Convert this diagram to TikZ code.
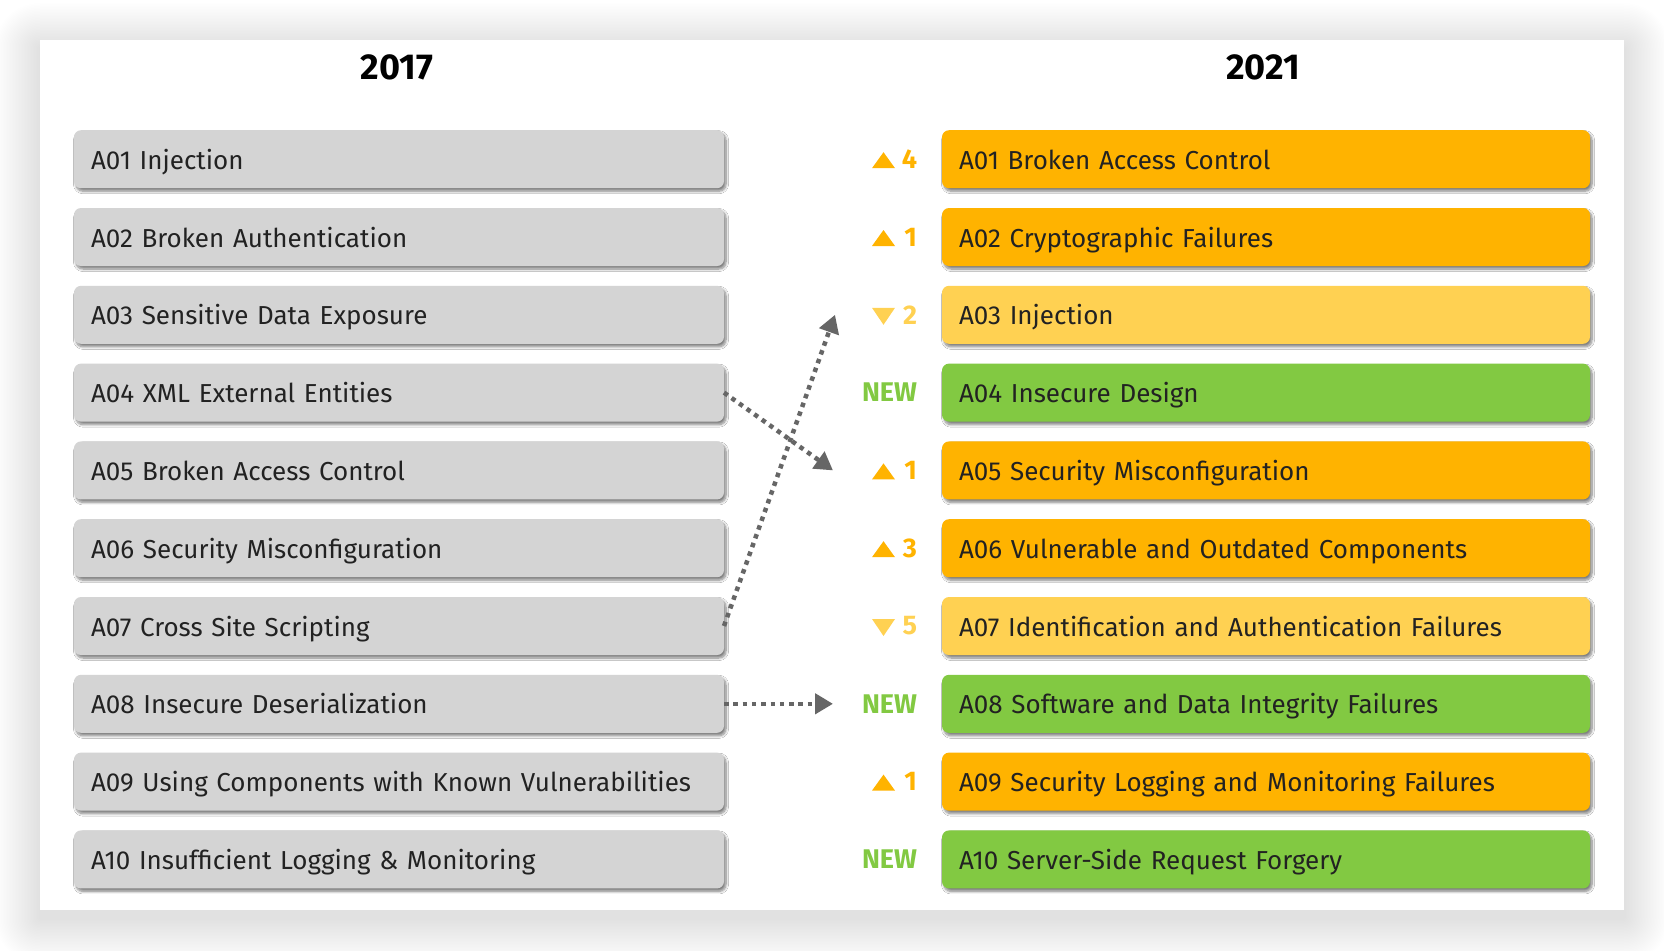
\documentclass[tikz,border=0pt]{standalone}
\usepackage{fontspec}
\setmainfont{Fira Sans}
\usetikzlibrary{arrows.meta,shadows.blur}

\definecolor{boxgray}{HTML}{D4D4D4}
\definecolor{txtdark}{HTML}{222222}
\definecolor{owasporange}{HTML}{FFB300}
\definecolor{owasplight}{HTML}{FFD152}
\definecolor{owaspgreen}{HTML}{82C942}
\definecolor{linkgray}{HTML}{666666}

\tikzset{
  every node/.style={inner sep=0pt, outer sep=0pt},
  entry/.style={anchor=west, minimum height=58pt, rounded corners=7pt,
      inner xsep=17pt, align=left, text=txtdark,
      text height=20pt, text depth=0pt,
      font=\fontsize{26pt}{30pt}\selectfont,
      blur shadow={shadow xshift=2pt, shadow yshift=-3pt,
      shadow blur radius=2.5pt, shadow blur steps=8, shadow opacity=50}},
  oldbox/.style={entry, fill=boxgray, text width=616pt},
  newbox/.style={entry, text width=614pt},
  rise/.style={newbox, fill=owasporange},
  drop/.style={newbox, fill=owasplight},
  fresh/.style={newbox, fill=owaspgreen},
  year/.style={font=\fontsize{36pt}{42pt}\selectfont\bfseries, text=black},
  marker/.style={anchor=east, font=\fontsize{27pt}{30pt}\selectfont\bfseries},
  link/.style={linkgray, line width=4.5pt, dash pattern=on 4.5pt off 4.8pt,
      -{Triangle[length=18pt, width=20pt]}},
}

\begin{document}
\begin{tikzpicture}[x=1pt, y=-1pt]
\useasboundingbox (0,0) rectangle (1664,950);
\fill[white] (0,0) rectangle (1664,950);

% soft shadow under the white card, built from stacked translucent layers
\foreach \i in {1,...,30}
  \fill[black, opacity=0.004, rounded corners=1.5*\i pt]
    (40-1.5*\i, 48-1.5*\i) rectangle (1624+1.5*\i, 918+1.5*\i);
\fill[white] (40,40) rectangle (1624,910);

% column headings
\node[year] (y17) at (397,67) {2017};
\node[year] (y21) at (1263,67) {2021};

% 2017 list
\node[oldbox] (o1)  at (74,159.2) {A01 Injection};
\node[oldbox] (o2)  at (74,237.0) {A02 Broken Authentication};
\node[oldbox] (o3)  at (74,314.8) {A03 Sensitive Data Exposure};
\node[oldbox] (o4)  at (74,392.6) {A04 XML External Entities};
\node[oldbox] (o5)  at (74,470.4) {A05 Broken Access Control};
\node[oldbox] (o6)  at (74,548.2) {A06 Security Misconfiguration};
\node[oldbox] (o7)  at (74,626.0) {A07 Cross Site Scripting};
\node[oldbox] (o8)  at (74,703.8) {A08 Insecure Deserialization};
\node[oldbox] (o9)  at (74,781.6) {A09 Using Components with Known Vulnerabilities};
\node[oldbox] (o10) at (74,859.4) {A10 Insufficient Logging \& Monitoring};

% 2021 list
\node[rise]  (n1)  at (942,159.2) {A01 Broken Access Control};
\node[rise]  (n2)  at (942,237.0) {A02 Cryptographic Failures};
\node[drop]  (n3)  at (942,314.8) {A03 Injection};
\node[fresh] (n4)  at (942,392.6) {A04 Insecure Design};
\node[rise]  (n5)  at (942,470.4) {A05 Security Misconfiguration};
\node[rise]  (n6)  at (942,548.2) {A06 Vulnerable and Outdated Components};
\node[drop]  (n7)  at (942,626.0) {A07 Identification and Authentication Failures};
\node[fresh] (n8)  at (942,703.8) {A08 Software and Data Integrity Failures};
\node[rise]  (n9)  at (942,781.6) {A09 Security Logging and Monitoring Failures};
\node[fresh] (n10) at (942,859.4) {A10 Server-Side Request Forgery};

% rank change markers
\node[marker, text=owasporange] (m1)  at (917,159.2) {4};
\node[marker, text=owasporange] (m2)  at (917,237.0) {1};
\node[marker, text=owasplight]  (m3)  at (917,314.8) {2};
\node[marker, text=owaspgreen]  (m4)  at (917,392.6) {NEW};
\node[marker, text=owasporange] (m5)  at (917,470.4) {1};
\node[marker, text=owasporange] (m6)  at (917,548.2) {3};
\node[marker, text=owasplight]  (m7)  at (917,626.0) {5};
\node[marker, text=owaspgreen]  (m8)  at (917,703.8) {NEW};
\node[marker, text=owasporange] (m9)  at (917,781.6) {1};
\node[marker, text=owaspgreen]  (m10) at (917,859.4) {NEW};

% up / down triangles
\foreach \yy in {159.2,237.0,470.4,548.2,781.6}
  \fill[owasporange] (872,\yy+9) -- (895,\yy+9) -- (883.5,\yy-7) -- cycle;
\foreach \yy in {314.8,626.0}
  \fill[owasplight] (872,\yy-7) -- (895,\yy-7) -- (883.5,\yy+10) -- cycle;

% moves between the lists
\coordinate (t3) at (835,314.8);
\coordinate (t5) at (833,470.4);
\coordinate (t8) at (833,703.8);
\draw[link] (o4.east) -- (t5);
\draw[link] (o7.east) -- (t3);
\draw[link] (o8.east) -- (t8);
\end{tikzpicture}
\end{document}
